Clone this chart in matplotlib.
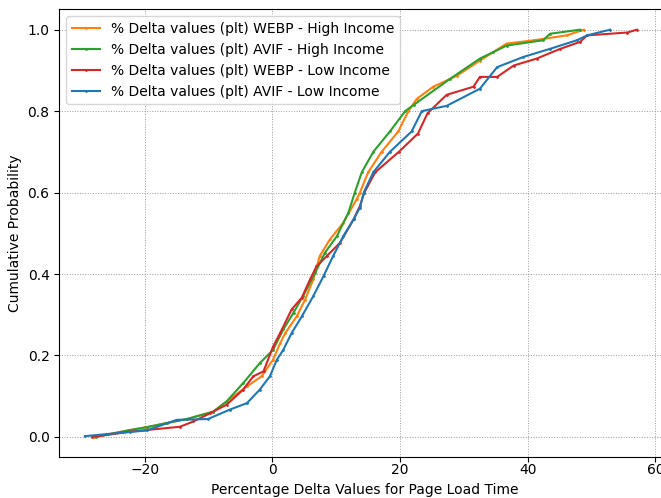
import numpy as np
import matplotlib
matplotlib.use('Agg')
import matplotlib.pyplot as plt

# CDF points (x = % delta, y = cumulative probability)
webp_high_x = [-28.0, -22.3, -19.7, -16.6, -13.4, -9.3, -7.2, -4.0, -1.7, 0.1, 1.2, 2.0, 3.8,
               5.1, 6.4, 7.4, 9.0, 11.1, 13.2, 13.7, 15.0, 17.1, 19.7, 21.3, 22.6, 25.2, 28.9,
               32.5, 36.7, 41.0, 46.1, 48.8]
webp_high_y = [0.0, 0.017, 0.024, 0.034, 0.044, 0.062, 0.087, 0.124, 0.149, 0.19, 0.23, 0.255,
               0.296, 0.337, 0.387, 0.444, 0.485, 0.526, 0.584, 0.60, 0.65, 0.70, 0.75, 0.80,
               0.83, 0.86, 0.887, 0.924, 0.966, 0.974, 0.986, 1.0]

avif_high_x = [-27.6, -22.3, -19.7, -16.6, -13.4, -9.3, -7.2, -4.6, -2.0, 0.1, 1.7, 3.3, 4.8,
               6.7, 8.2, 10.1, 11.9, 12.9, 14.0, 15.8, 18.4, 20.8, 22.1, 27.8, 32.5, 34.6, 36.7,
               42.4, 43.5, 48.2]
avif_high_y = [0.0, 0.017, 0.024, 0.034, 0.044, 0.062, 0.087, 0.132, 0.181, 0.214, 0.264, 0.305,
               0.346, 0.403, 0.452, 0.493, 0.551, 0.60, 0.65, 0.70, 0.75, 0.80, 0.815, 0.879,
               0.929, 0.945, 0.961, 0.974, 0.99, 1.0]

webp_low_x = [-28.2, -22.3, -14.5, -12.4, -9.8, -7.2, -4.6, -3.0, -1.4, 0.1, 1.2, 3.0, 4.6, 5.9,
              6.9, 8.5, 10.6, 12.7, 13.7, 14.4, 16.1, 19.8, 22.8, 24.3, 27.3, 31.5, 32.5, 35.2,
              37.8, 41.4, 45.1, 48.2, 49.3, 55.6, 57.1]
webp_low_y = [0.0, 0.013, 0.025, 0.038, 0.058, 0.079, 0.116, 0.149, 0.161, 0.222, 0.255, 0.313,
              0.342, 0.387, 0.419, 0.444, 0.477, 0.534, 0.567, 0.60, 0.65, 0.70, 0.745, 0.795,
              0.84, 0.86, 0.884, 0.884, 0.912, 0.929, 0.953, 0.97, 0.986, 0.993, 1.0]

avif_low_x = [-29.4, -19.7, -15.0, -10.1, -6.7, -4.0, -2.0, -0.4, 0.7, 1.7, 3.0, 4.6, 6.4, 8.0,
              9.5, 11.1, 12.7, 13.7, 14.3, 15.8, 18.4, 21.8, 23.4, 27.3, 32.5, 35.2, 39.3, 43.5,
              47.7, 49.3, 52.9]
avif_low_y = [0.002, 0.016, 0.042, 0.044, 0.067, 0.083, 0.116, 0.149, 0.19, 0.214, 0.255, 0.296,
              0.346, 0.395, 0.444, 0.493, 0.534, 0.563, 0.60, 0.65, 0.70, 0.75, 0.80, 0.813,
              0.855, 0.908, 0.933, 0.953, 0.974, 0.986, 1.0]

series = [
    ('% Delta values (plt) WEBP - High Income', webp_high_x, webp_high_y, 'tab:orange'),
    ('% Delta values (plt) AVIF - High Income', avif_high_x, avif_high_y, 'tab:green'),
    ('% Delta values (plt) WEBP - Low Income', webp_low_x, webp_low_y, 'tab:red'),
    ('% Delta values (plt) AVIF - Low Income', avif_low_x, avif_low_y, 'tab:blue'),
]

fig = plt.figure(figsize=(6.61, 4.98), dpi=100)
ax = fig.add_axes([0.0897, 0.0817, 0.925, 0.8996])

for label, xs, ys, color in series:
    ax.plot(xs, ys, marker='.', markersize=2, linewidth=1.5, color=color, label=label)

ax.set_xlim(-33.4, 62.4)
ax.set_xticks([-20, 0, 20, 40, 60])
ax.set_yticks([0.0, 0.2, 0.4, 0.6, 0.8, 1.0])
ax.tick_params(axis='x', pad=0.8)
ax.set_xlabel('Percentage Delta Values for Page Load Time')
ax.set_ylabel('Cumulative Probability')
ax.grid(True, linestyle=':', color='gray', linewidth=0.7, alpha=0.8)
ax.legend(loc='upper left')

fig.savefig('out.png', dpi=100)
